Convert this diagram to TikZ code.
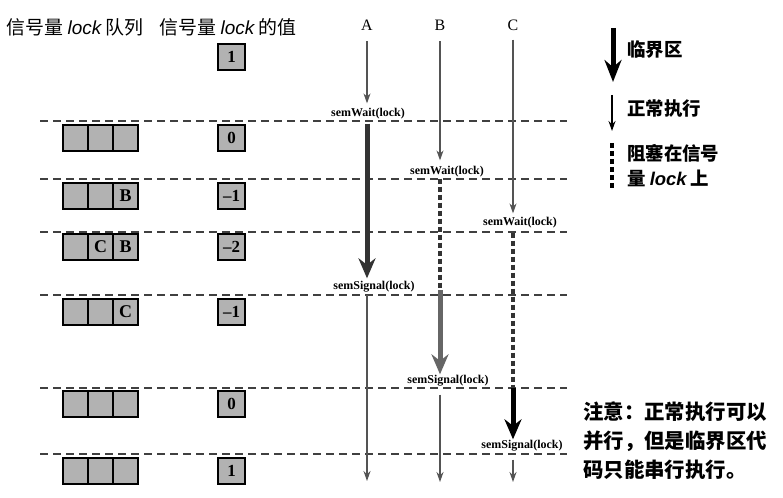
\documentclass[tikz,border=0pt]{standalone}
\usepackage{fontspec}
\setmainfont{Liberation Serif}
\newfontfamily\cjk{Noto Sans CJK SC}
\newfontfamily\lsans{Liberation Sans}
\usetikzlibrary{arrows.meta}
\definecolor{ink}{gray}{0.33}
\definecolor{cellgray}{gray}{0.7}
\tikzset{font=\fontsize{16}{16}\selectfont}
\tikzstyle{head}=[inner sep=0pt,font=\cjk\fontsize{19}{19}\selectfont]
\tikzstyle{cell}=[draw=black,line width=2.8bp,fill=cellgray,minimum width=25bp,minimum height=26bp,inner sep=0pt]
\tikzstyle{val}=[cell,minimum width=27bp,font=\fontsize{17}{17}\selectfont\bfseries]
\tikzstyle{letter}=[inner sep=0pt,font=\fontsize{18}{18}\selectfont\bfseries]
\tikzstyle{op}=[inner sep=1bp,font=\fontsize{12}{12}\selectfont\bfseries]
\tikzstyle{proc}=[inner sep=2bp]
\tikzstyle{sep}=[black!75,line width=1.3bp,dash pattern=on 8bp off 5bp]
\tikzstyle{run}=[ink,line width=1.2bp,-{Stealth[length=10bp,width=7bp]}]
\tikzstyle{crit}=[line width=5bp,-{Stealth[length=20bp,width=17bp]}]
\tikzstyle{blocked}=[black!80,line width=3.2bp,dash pattern=on 5bp off 3bp]
\tikzstyle{legend}=[inner sep=0pt,anchor=west,align=left,font=\cjk\bfseries\fontsize{18.5}{25}\selectfont]
\tikzstyle{note}=[inner sep=0pt,anchor=west,align=left,font=\cjk\bfseries\fontsize{20.5}{29}\selectfont]

\begin{document}
\begin{tikzpicture}[x=1bp,y=-1bp]
\useasboundingbox (0,0) rectangle (783,498);
% headings
\node[head] (hq) at (75,27) {信号量 {\lsans\itshape lock} 队列};
\node[head] (hv) at (228,27) {信号量 {\lsans\itshape lock} 的值};
\node[proc] (A) at (367,25) {A};
\node[proc] (B) at (440,25) {B};
\node[proc] (C) at (513,25) {C};
% separators
\foreach \y in {121,179,232,295,388,454}
  \draw[sep] (40,\y) -- (567,\y);
% queue and value
\foreach \r/\y in {1/138,2/196,3/247,4/312,5/404,6/471}
  \foreach \c/\x in {1/75.5,2/100.5,3/125.5}
    \node[cell] (q\r\c) at (\x,\y) {};
\foreach \cc/\t in {23/B,32/C,33/B,43/C}
  \node[letter] (t\cc) at (q\cc) {\t};
\foreach \n/\y/\v in {0/57/1,1/138/0,2/196/--1,3/247/--2,4/312/--1,5/404/0,6/471/1}
  \node[val] (v\n) at (231.5,\y) {\v};
% operations
\node[op] (wA) at (368,114) {semWait(lock)};
\node[op] (wB) at (447,172) {semWait(lock)};
\node[op] (wC) at (520,223) {semWait(lock)};
\node[op] (sA) at (374,287) {semSignal(lock)};
\node[op] (sB) at (448,381) {semSignal(lock)};
\node[op] (sC) at (522,446) {semSignal(lock)};
\coordinate (Aend) at (367,481);
\coordinate (Bend) at (440,482);
\coordinate (Cend) at (513,482);
\coordinate (Bq) at (440,290);
\coordinate (Cq) at (513,388);
\path[run]
(A.south) edge[shorten <=9bp,shorten >=4bp] (A.south |- wA.north)
(B.south) edge[shorten <=9bp,shorten >=5bp] (B.south |- wB.north)
(C.south) edge[shorten <=7bp,shorten >=3bp] (C.south |- wC.north)
(sA.south -| A) edge[shorten <=1bp] (Aend)
(sB.south -| B) edge[shorten <=7bp] (Bend)
(sC.south -| C) edge[shorten <=7bp] (Cend);
\path[blocked]
(wB.south -| B) edge (Bq)
(wC.south -| C) edge[shorten <=3bp] (Cq);
\path[crit]
(wA.south -| A) edge[black!80,shorten <=3bp,shorten >=2bp] (sA.north -| A)
(Bq) edge[black!60] (sB.north -| B)
(Cq) edge[black] (sC.north -| C);
% legend
\coordinate (L1) at (613,28);
\coordinate (L2) at (613,82);
\coordinate (L3) at (612,95);
\coordinate (L4) at (612,131);
\coordinate (L5) at (612,143);
\coordinate (L6) at (612,189);
\path (L1) edge[crit,black,-{Stealth[length=22bp,width=17bp]}] (L2)
(L3) edge[black,line width=1.3bp,-{Stealth[length=10bp,width=7bp]}] (L4)
(L5) edge[blocked,black] (L6);
\node[legend] (lc) at (627,50) {临界区};
\node[legend] (ln) at (627,109) {正常执行};
\node[legend] (lb) at (627,165.5) {阻塞在信号\\量 {\lsans\itshape\bfseries lock} 上};
% note
\node[note] (nt) at (583,441) {注意：正常执行可以\\并行，但是临界区代\\码只能串行执行。};
\end{tikzpicture}
\end{document}
